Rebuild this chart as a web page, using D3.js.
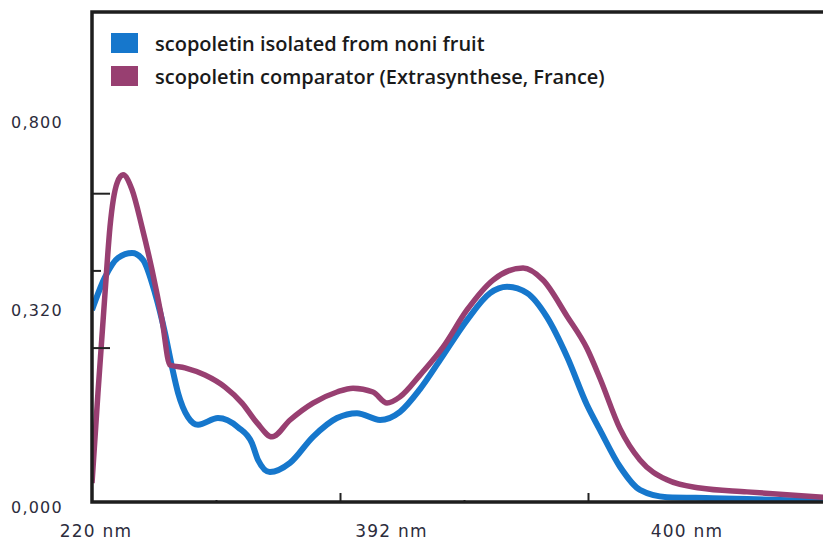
<html>
<head>
<title>Scopoletin UV spectrum</title>
<script src="https://d3js.org/d3.v7.min.js" charset="utf-8"></script>
<style>
    body { margin: 0; background: #fff; }
</style>
</head>
<body>
<script type="text/javascript">

// x = position along the wavelength axis (axis divisions), y = absorbance
var noniX = [0, 0.105, 0.21, 0.323, 0.411, 0.508, 0.589, 0.645, 0.694, 0.774, 0.855, 1.016, 1.177, 1.29, 1.339, 1.435,
             1.597, 1.782, 1.976, 2.137, 2.323, 2.484, 2.645, 2.806, 3.024, 3.21, 3.347, 3.508, 3.669, 3.831, 3.992,
             4.097, 4.258, 4.419, 4.637, 5.008, 5.548, 5.9];
var noniY = [0.398, 0.466, 0.506, 0.516, 0.502, 0.433, 0.35, 0.28, 0.226, 0.176, 0.16, 0.174, 0.155, 0.122, 0.087, 0.062,
             0.081, 0.135, 0.174, 0.184, 0.17, 0.187, 0.234, 0.294, 0.377, 0.433, 0.446, 0.433, 0.383, 0.301, 0.201,
             0.149, 0.073, 0.025, 0.01, 0.008, 0.004, 0.002];

var compX = [0, 0.048, 0.105, 0.145, 0.202, 0.25, 0.323, 0.403, 0.484, 0.565, 0.629, 0.75, 0.911, 1.073, 1.21, 1.331,
             1.452, 1.597, 1.782, 1.976, 2.105, 2.266, 2.379, 2.484, 2.645, 2.831, 3.024, 3.234, 3.476, 3.637, 3.831,
             3.992, 4.097, 4.258, 4.419, 4.637, 4.903, 5.282, 5.9];
var compY = [0.039, 0.226, 0.433, 0.57, 0.661, 0.678, 0.647, 0.57, 0.481, 0.377, 0.284, 0.278, 0.263, 0.238, 0.205, 0.164,
             0.135, 0.17, 0.205, 0.228, 0.236, 0.228, 0.205, 0.218, 0.263, 0.321, 0.398, 0.46, 0.485, 0.46, 0.385,
             0.318, 0.256, 0.152, 0.087, 0.046, 0.029, 0.021, 0.01];

var seriesNames = ["scopoletin isolated from noni fruit", "scopoletin comparator (Extrasynthese, France)"];
var seriesColors = ["#1677cc", "#983f71"];

var xTickLabels = ["220 nm", "392 nm", "400 nm"];
var yTickLabels = ["0,800", "0,320", "0,000"];

var xMajorTicks = [2, 4];
var xMinorTicks = [1, 3];
var yMajorTicks = [0.32, 0.64];
var yMinorTicks = [0.48];

var w = 823;
var h = 544;

var svg = d3.select("body")
            .append("svg")
            .attr("width", w)
            .attr("height", h);

var x = d3.scaleLinear().domain([0, 6]).range([92, 836]);
var y = d3.scaleLinear().domain([0, 0.8]).range([502, 116]);

// clip the curves to the plot frame
svg.append("clipPath")
    .attr("id", "plot")
    .append("rect")
    .attr("x", 92).attr("y", 12)
    .attr("width", w - 92).attr("height", 490);

var line = d3.line()
    .x(function(d) { return x(d[0]); })
    .y(function(d) { return y(d[1]); })
    .curve(d3.curveMonotoneX);

var series = [d3.zip(noniX, noniY), d3.zip(compX, compY)];
var widths = [6, 5.5];

svg.append("g")
    .attr("clip-path", "url(#plot)")
    .selectAll("path")
    .data(series)
    .enter()
    .append("path")
    .attr("d", line)
    .attr("fill", "none")
    .attr("stroke", function(d, i) { return seriesColors[i]; })
    .attr("stroke-width", function(d, i) { return widths[i]; })
    .attr("stroke-linejoin", "round");

// inner ticks
function ticks(axis, vals, size, tx, ty) {
    var g = svg.append("g")
        .attr("transform", "translate(" + tx + "," + ty + ")")
        .call(axis.tickValues(vals).tickSize(size).tickFormat(""));
    g.select(".domain").remove();
    g.selectAll("line").attr("stroke", "#222").attr("stroke-width", 2);
}
ticks(d3.axisRight(y), yMajorTicks, 18, 92, 0);
ticks(d3.axisRight(y), yMinorTicks, 9, 92, 0);
ticks(d3.axisTop(x), xMajorTicks, 9, 0, 502);
ticks(d3.axisTop(x), xMinorTicks, 2, 0, 502);

// frame
svg.append("path")
    .attr("d", "M823,12H92V502H823")
    .attr("fill", "none")
    .attr("stroke", "#1e1e1e")
    .attr("stroke-width", 3.5);

// tick labels
var yLab = d3.scalePoint().domain(yTickLabels).range([122, 507]);
svg.selectAll("text.ylab")
    .data(yTickLabels)
    .enter()
    .append("text")
    .attr("class", "ylab")
    .attr("x", 11)
    .attr("y", function(d, i) { return yLab(d) - (i == 1 ? 4 : 0); })
    .attr("dy", "0.35em")
    .attr("font-family", "DejaVu Sans")
    .attr("font-size", 16)
    .attr("letter-spacing", 1.2)
    .attr("fill", "#2c2c3c")
    .text(function(d) { return d; });

var xLab = d3.scalePoint().domain(xTickLabels).range([96, 687]);
svg.selectAll("text.xlab")
    .data(xTickLabels)
    .enter()
    .append("text")
    .attr("class", "xlab")
    .attr("x", function(d) { return xLab(d); })
    .attr("y", 537)
    .attr("text-anchor", "middle")
    .attr("font-family", "DejaVu Sans")
    .attr("font-size", 17)
    .attr("letter-spacing", 1.2)
    .attr("fill", "#2c2c3c")
    .text(function(d) { return d; });

// legend
var legend = svg.selectAll("g.legend")
    .data(seriesNames)
    .enter()
    .append("g")
    .attr("class", "legend")
    .attr("transform", function(d, i) { return "translate(111," + (33 + i * 33) + ")"; });

legend.append("rect")
    .attr("width", 27)
    .attr("height", 20)
    .attr("fill", function(d, i) { return seriesColors[i]; });

legend.append("text")
    .attr("x", 44)
    .attr("y", 18)
    .attr("font-family", "Open Sans")
    .attr("font-weight", 600)
    .attr("font-size", 20)
    .attr("fill", "#1a1a1a")
    .text(function(d) { return d; });

</script>
</body>
</html>
